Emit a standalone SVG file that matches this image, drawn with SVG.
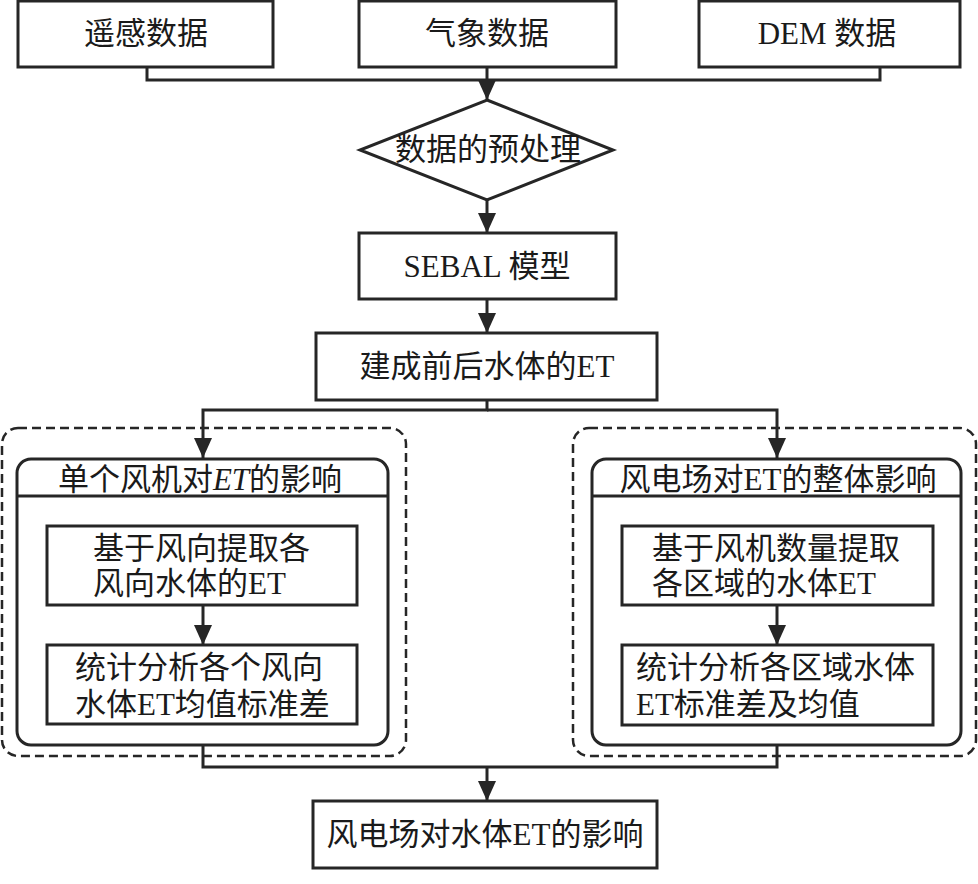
<svg xmlns="http://www.w3.org/2000/svg" width="978" height="884" viewBox="0 0 978 884">
<style>
.box{fill:#fff;stroke:#262626;stroke-width:3}
.dash{fill:none;stroke:#262626;stroke-width:2.5;stroke-dasharray:9 5}
.ln{fill:none;stroke:#262626;stroke-width:3}
text{font-family:"Liberation Serif","Noto Sans CJK SC",serif;font-size:31px;fill:#1a1a1a;dominant-baseline:central}
.c{text-anchor:middle}
</style>
<defs>
<marker id="arr" markerUnits="userSpaceOnUse" markerWidth="20" markerHeight="18" viewBox="0 0 20 18" refX="20" refY="9" orient="auto">
<path d="M0,0 L20,9 L0,18 Z" fill="#262626"/>
</marker>
</defs>
<rect width="978" height="884" fill="#fff"/>
<g id="n1"><rect class="box" x="18" y="1" width="255" height="66"/><text class="c" x="146" y="33">遥感数据</text></g>
<g id="n2"><rect class="box" x="359" y="1" width="257" height="66"/><text class="c" x="487" y="33">气象数据</text></g>
<g id="n3"><rect class="box" x="699" y="1" width="261" height="66"/><text class="c" x="827" y="33">DEM 数据</text></g>
<g id="n4"><polygon class="box" points="487,100 613,150 487,200 360,150"/><text class="c" x="488" y="149">数据的预处理</text></g>
<g id="n5"><rect class="box" x="359" y="233" width="257" height="66"/><text class="c" x="487" y="266">SEBAL 模型</text></g>
<g id="n6"><rect class="box" x="316" y="333" width="341" height="67"/><text class="c" x="487" y="366">建成前后水体的ET</text></g>
<g id="g-left">
<rect class="dash" x="2" y="428" width="404" height="328" rx="16"/>
<rect class="box" x="17" y="459" width="371" height="286" rx="14"/>
<line class="ln" x1="17" y1="496" x2="388" y2="496"/>
<text class="c" x="200" y="479">单个风机对<tspan font-style="italic">ET</tspan>的影响</text>
</g>
<g id="n7"><rect class="box" x="47" y="526" width="310" height="79"/><text x="93" y="548">基于风向提取各</text><text x="93" y="583">风向水体的ET</text></g>
<g id="n8"><rect class="box" x="47" y="645" width="310" height="79"/><text x="75" y="667">统计分析各个风向</text><text x="75" y="704">水体ET均值标准差</text></g>
<g id="g-right">
<rect class="dash" x="573" y="428" width="403" height="328" rx="16"/>
<rect class="box" x="592" y="459" width="369" height="286" rx="14"/>
<line class="ln" x1="592" y1="496" x2="961" y2="496"/>
<text class="c" x="778" y="479">风电场对ET的整体影响</text>
</g>
<g id="n9"><rect class="box" x="622" y="526" width="311" height="79"/><text x="652" y="548">基于风机数量提取</text><text x="652" y="583">各区域的水体ET</text></g>
<g id="n10"><rect class="box" x="622" y="645" width="311" height="80"/><text x="636" y="667">统计分析各区域水体</text><text x="636" y="704">ET标准差及均值</text></g>
<g id="n11"><rect class="box" x="313" y="801" width="344" height="67"/><text class="c" x="485" y="834">风电场对水体ET的影响</text></g>
<g id="connectors">
<path class="ln" d="M147,67 V80 H880 V67"/>
<path class="ln" d="M487,67 V100" marker-end="url(#arr)"/>
<path class="ln" d="M487,200 V233" marker-end="url(#arr)"/>
<path class="ln" d="M487,299 V333" marker-end="url(#arr)"/>
<path class="ln" d="M487,400 V410 H203 V458" marker-end="url(#arr)"/>
<path class="ln" d="M487,410 H777 V458" marker-end="url(#arr)"/>
<path class="ln" d="M203,605 V645" marker-end="url(#arr)"/>
<path class="ln" d="M777,605 V645" marker-end="url(#arr)"/>
<path class="ln" d="M203,745 V767 H777 V745"/>
<path class="ln" d="M487,767 V801" marker-end="url(#arr)"/>
</g>
</svg>
